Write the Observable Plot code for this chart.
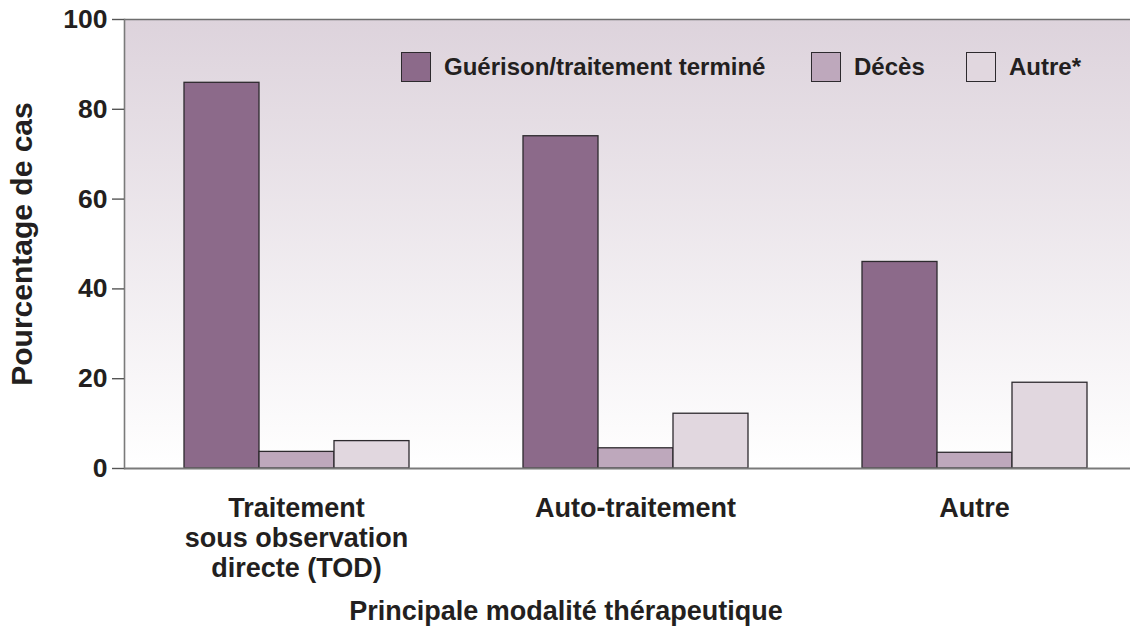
<!DOCTYPE html>
<html><head><meta charset="utf-8">
<script src="https://cdn.jsdelivr.net/npm/d3@7"></script>
<script src="https://cdn.jsdelivr.net/npm/@observablehq/plot@0.6"></script>
<style>
body{margin:0;background:#fff;font-family:"Liberation Sans",Arial,sans-serif;color:#231f20}
#wrap{position:relative;width:1130px;height:630px;overflow:hidden}
#legend .item{position:absolute;top:52px;display:flex;align-items:center;height:30px;font-size:24px;font-weight:bold;white-space:nowrap}
#legend .sw{width:30px;height:30px;border:1.3px solid #2d2a2e;box-sizing:border-box;margin-right:13px}
#xtitle{position:absolute;left:0;width:1132px;top:598px;text-align:center;font-size:27px;line-height:27px;font-weight:bold}
</style></head><body>
<div id="wrap"><div id="chart"></div><div id="legend"></div><div id="xtitle"></div></div>
<script>
const groups = ["TOD", "Auto-traitement", "Autre"];
const groupLabels = ["Traitement\nsous observation\ndirecte (TOD)", "Auto-traitement", "Autre"];
const series = ["Guérison/traitement terminé", "Décès", "Autre*"];
const guerison = [85.9, 74.0, 46.0];
const deces = [3.7, 4.5, 3.5];
const autre = [6.1, 12.2, 19.1];
const colors = ["#8c6a8a", "#bea8bc", "#e1d7df"];
const yTicks = [0, 20, 40, 60, 80, 100];
const yLabel = "Pourcentage de cas";
const xTitle = "Principale modalité thérapeutique";

const valuesBySeries = [guerison, deces, autre];
const rows = groups.flatMap((g, i) => series.map((s, j) => ({group: g, series: s, value: valuesBySeries[j][i]})));
const labelRows = groups.map((g, i) => ({group: g, label: groupLabels[i]}));

const font = '"Liberation Sans", Arial, sans-serif';
const M = {left: 124, right: -11.5, top: 19, bottom: 122};
const W = 1130, H = 590;
const plot = Plot.plot({
  width: W, height: H,
  marginLeft: M.left, marginRight: M.right, marginTop: M.top, marginBottom: M.bottom,
  style: {fontFamily: font, color: "#231f20", background: "transparent"},
  fx: {domain: groups, paddingInner: 0, paddingOuter: 0, axis: null, label: null},
  x: {domain: series, paddingInner: 0, paddingOuter: 0.745, align: 0.522, axis: null},
  y: {domain: [0, 100], axis: null},
  color: {domain: series, range: colors},
  marks: [
    Plot.barY(rows, {fx: "group", x: "series", y: "value", fill: "series", stroke: "#2d2a2e", strokeWidth: 1.3}),
    Plot.ruleY([0], {stroke: "#7a7a7a", strokeWidth: 2}),
    Plot.ruleY([100], {stroke: "#6e6e6e", strokeWidth: 1.6}),
    Plot.frame({anchor: "left", facetAnchor: "left", stroke: "#7a7a7a", strokeWidth: 1.6}),
    Plot.axisY({ticks: yTicks, tickSize: 12, tickPadding: 5, fontSize: 26.5, fontWeight: "bold", label: null, stroke: "#555", strokeWidth: 1.4, fill: "#231f20"}),
    Plot.text([yLabel], {frameAnchor: "left", textAnchor: "middle", rotate: -90, dx: -102, fontSize: 30, fontWeight: "bold", facetAnchor: "left", fill: "#231f20"}),
    Plot.text(labelRows, {fx: "group", text: "label", frameAnchor: "bottom", lineAnchor: "top", dy: 27, dx: 2.5, fontSize: 27, fontWeight: "bold", lineHeight: 1.12, fill: "#231f20"})
  ]
});
const svg = d3.select(plot);
const defs = svg.insert("defs", ":first-child");
const grad = defs.append("linearGradient").attr("id", "bggrad").attr("x1", 0).attr("y1", 0).attr("x2", 0).attr("y2", 1);
grad.append("stop").attr("offset", 0).attr("stop-color", "#ddd3dc");
grad.append("stop").attr("offset", 1).attr("stop-color", "#ffffff");
svg.insert("rect", "defs + *")
  .attr("x", M.left).attr("y", M.top)
  .attr("width", W - M.left).attr("height", H - M.top - M.bottom)
  .attr("fill", "url(#bggrad)");
document.getElementById("chart").appendChild(plot);

const legendPos = [401, 811, 966];
const legend = d3.select("#legend");
series.forEach((s, i) => {
  const item = legend.append("div").attr("class", "item").style("left", legendPos[i] + "px");
  item.append("div").attr("class", "sw").style("background", colors[i]);
  item.append("span").text(s);
});
document.getElementById("xtitle").textContent = xTitle;
</script>
</body></html>
